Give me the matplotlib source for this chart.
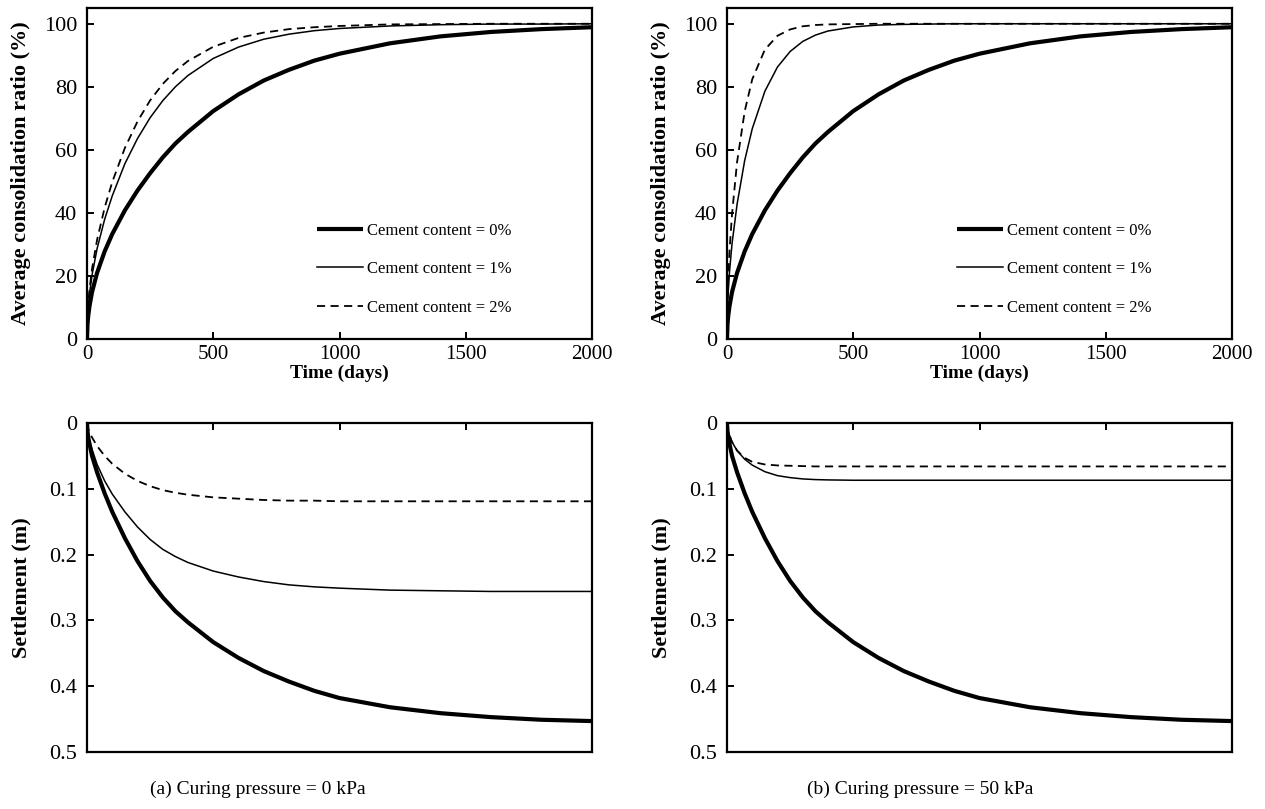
import numpy as np
import matplotlib.pyplot as plt

plt.rcParams['font.family'] = ['Liberation Serif', 'DejaVu Serif']

# time axis (days)
t = [0, 2, 5, 10, 20, 40, 70, 100, 150, 200, 250, 300, 350, 400, 500, 600, 700,
     800, 900, 1000, 1200, 1400, 1600, 1800, 2000]

# average consolidation ratio (%) - curing pressure 0 kPa
U_a_0 = [0, 4.7, 7.4, 10.5, 14.9, 21.0, 27.8, 33.3, 40.8, 47.1, 52.6, 57.6, 62.0, 65.7, 72.3,
         77.6, 82.0, 85.4, 88.3, 90.5, 93.8, 96.0, 97.4, 98.3, 98.9]
U_a_1 = [0, 6.4, 10.2, 14.4, 20.3, 28.7, 38.0, 45.4, 55.6, 63.6, 70.2, 75.6, 80.0, 83.6, 89.0,
         92.6, 95.1, 96.7, 97.8, 98.5, 99.3, 99.7, 99.9, 99.9, 100.0]
U_a_2 = [0, 7.0, 11.1, 15.8, 22.3, 31.5, 41.7, 49.8, 60.6, 69.0, 75.7, 80.9, 85.0, 88.2, 92.7,
         95.5, 97.2, 98.3, 98.9, 99.3, 99.8, 99.9, 100.0, 100.0, 100.0]

# average consolidation ratio (%) - curing pressure 50 kPa
U_b_0 = U_a_0
U_b_1 = [0, 9.6, 15.1, 21.4, 30.3, 42.8, 56.6, 66.7, 78.6, 86.3, 91.2, 94.4, 96.4, 97.7, 99.0,
         99.6, 99.8, 99.9, 100.0, 100.0, 100.0, 100.0, 100.0, 100.0, 100.0]
U_b_2 = [0, 12.6, 19.9, 28.1, 39.7, 56.2, 72.2, 82.4, 91.8, 96.2, 98.2, 99.2, 99.6, 99.8, 99.9,
         100.0, 100.0, 100.0, 100.0, 100.0, 100.0, 100.0, 100.0, 100.0, 100.0]

# settlement (m)
S_a_0 = [0, 0.013, 0.022, 0.032, 0.05, 0.075, 0.107, 0.135, 0.175, 0.21, 0.24, 0.265, 0.286,
         0.303, 0.333, 0.357, 0.377, 0.393, 0.407, 0.418, 0.432, 0.441, 0.447, 0.451, 0.453]
S_a_1 = [0, 0.011, 0.018, 0.027, 0.04, 0.063, 0.088, 0.108, 0.135, 0.158, 0.177, 0.192, 0.203,
         0.212, 0.225, 0.234, 0.241, 0.246, 0.249, 0.251, 0.254, 0.255, 0.256, 0.256, 0.256]
S_a_2 = [0, 0.005, 0.009, 0.014, 0.022, 0.035, 0.05, 0.062, 0.077, 0.088, 0.096, 0.102, 0.106,
         0.109, 0.113, 0.115, 0.117, 0.118, 0.118, 0.119, 0.119, 0.119, 0.119, 0.119, 0.119]
S_b_0 = S_a_0
S_b_1 = [0, 0.008, 0.013, 0.019, 0.029, 0.042, 0.055, 0.064, 0.074, 0.08, 0.083, 0.085, 0.086,
         0.0865, 0.087, 0.087, 0.087, 0.087, 0.087, 0.087, 0.087, 0.087, 0.087, 0.087, 0.087]
S_b_2 = [0, 0.008, 0.013, 0.019, 0.029, 0.042, 0.053, 0.059, 0.063, 0.0645, 0.065, 0.0655, 0.066,
         0.066, 0.066, 0.066, 0.066, 0.066, 0.066, 0.066, 0.066, 0.066, 0.066, 0.066, 0.066]

labels = ['Cement content = 0%', 'Cement content = 1%', 'Cement content = 2%']
captions = ['(a) Curing pressure = 0 kPa', '(b) Curing pressure = 50 kPa']

styles = [dict(color='black', lw=3.0, solid_capstyle='butt', solid_joinstyle='round'),
          dict(color='black', lw=1.1),
          dict(color='black', lw=1.3, ls=(0, (4.5, 3)))]

fig = plt.figure(figsize=(12.65, 8.09), dpi=100)

W, H = 1265, 809
def add_ax(x0, x1, y0, y1):
    return fig.add_axes([x0 / W, 1 - y1 / H, (x1 - x0) / W, (y1 - y0) / H])

ax_tl = add_ax(87, 592, 8, 339)
ax_tr = add_ax(727, 1232, 8, 339)
ax_bl = add_ax(87, 592, 423, 752)
ax_br = add_ax(727, 1232, 423, 752)

for ax in [ax_tl, ax_tr, ax_bl, ax_br]:
    for sp in ax.spines.values():
        sp.set_linewidth(1.6)
    ax.tick_params(direction='in', length=5, width=1.4, labelsize=16, pad=7)
    ax.tick_params(axis='x', labelsize=15, pad=4)
    ax.set_xlim(0, 2000)
    ax.set_xticks([0, 500, 1000, 1500, 2000])

# consolidation ratio panels
for ax, series in [(ax_tl, [U_a_0, U_a_1, U_a_2]), (ax_tr, [U_b_0, U_b_1, U_b_2])]:
    for y, st, lab in zip(series, styles, labels):
        ax.plot(t, y, label=lab, **st)
    ax.set_ylim(0, 105)
    ax.set_yticks([0, 20, 40, 60, 80, 100])
    ax.set_xlabel('Time (days)', fontsize=14, fontweight='bold', labelpad=1)
    ax.set_ylabel('Average consolidation ratio (%)', fontsize=16, fontweight='bold')
    ax.yaxis.set_label_coords(-0.11, 0.5)
    ax.legend(loc='lower left', bbox_to_anchor=(0.455, 0.07), frameon=False,
              fontsize=12, handlelength=2.8, handletextpad=0.2, labelspacing=1.35,
              borderpad=0, borderaxespad=0)

# settlement panels
for ax, series, cap in [(ax_bl, [S_a_0, S_a_1, S_a_2], captions[0]),
                        (ax_br, [S_b_0, S_b_1, S_b_2], captions[1])]:
    for y, st in zip(series, styles):
        ax.plot(t, y, **st)
    ax.set_ylim(0.5, 0)
    ax.set_yticks([0, 0.1, 0.2, 0.3, 0.4, 0.5])
    ax.set_yticklabels(['0', '0.1', '0.2', '0.3', '0.4', '0.5'])
    ax.xaxis.tick_top()
    ax.tick_params(axis='x', labeltop=False)
    ax.set_ylabel('Settlement (m)', fontsize=16, fontweight='bold')
    ax.yaxis.set_label_coords(-0.11, 0.5)

fig.text(258 / W, 1 - 789 / H, captions[0], ha='center', va='center', fontsize=14)
fig.text(920 / W, 1 - 789 / H, captions[1], ha='center', va='center', fontsize=14)

fig.savefig('out.png', dpi=100)
